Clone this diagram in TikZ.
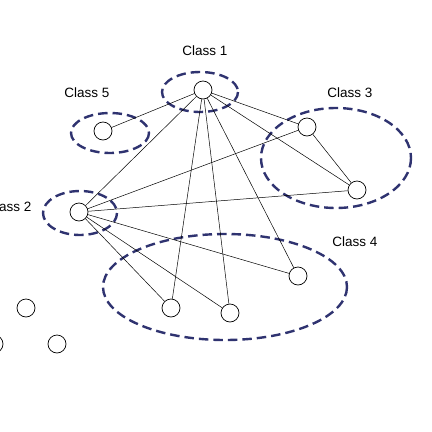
\documentclass[tikz,border=0pt]{standalone}
\usepackage{fontspec}
\setmainfont{Liberation Sans}
\begin{document}
\begin{tikzpicture}[x=1pt,y=-1pt,
    vtx/.style={draw,circle,minimum size=18pt,inner sep=0pt,line width=.7pt},
    grp/.style={draw=navyline,line width=2.4pt,dash pattern=on 9.5pt off 5pt},
    lbl/.style={font=\fontsize{13.5}{16}\selectfont}]
      \definecolor{navyline}{HTML}{2F3370}
      \useasboundingbox (0,0) rectangle (432,432);
      \clip (0,0) rectangle (432,432);
      % classes
      \draw[grp] (200,92) ellipse (38 and 20);
      \draw[grp] (110,133) ellipse (39 and 20);
      \draw[grp] (336,158) ellipse (75 and 50);
      \draw[grp] (80,213) ellipse (37 and 22);
      \draw[grp] (225,287) ellipse (122 and 53);
      \node[lbl] (l1) at (205,51) {Class 1};
      \node[lbl] (l5) at (87,93) {Class 5};
      \node[lbl] (l3) at (350,93) {Class 3};
      \node[lbl,anchor=east] (l2) at (35,207) {Class 2};
      \node[lbl] (l4) at (355,242) {Class 4};
      % vertices
      \node[vtx] (c1) at (203,90) {};
      \node[vtx] (c5) at (103,131) {};
      \node[vtx] (c3a) at (307,127) {};
      \node[vtx] (c3b) at (357,190) {};
      \node[vtx] (c2) at (79,212) {};
      \node[vtx] (c4a) at (171,308) {};
      \node[vtx] (c4b) at (230,313) {};
      \node[vtx] (c4c) at (298,276) {};
      \node[vtx] (u1) at (26,308) {};
      \node[vtx] (u2) at (57,344) {};
      \node[vtx] (u3) at (-6,344) {};
      % edges
      \foreach \VA/\VB in {c1/c5,c1/c2,c1/c3a,c1/c3b,c1/c4a,c1/c4b,c1/c4c,
        c2/c3a,c2/c3b,c2/c4a,c2/c4b,c2/c4c,c3a/c3b}{%
          \draw[line width=.5pt] (\VA)--(\VB);
        }
    \end{tikzpicture}
\end{document}
